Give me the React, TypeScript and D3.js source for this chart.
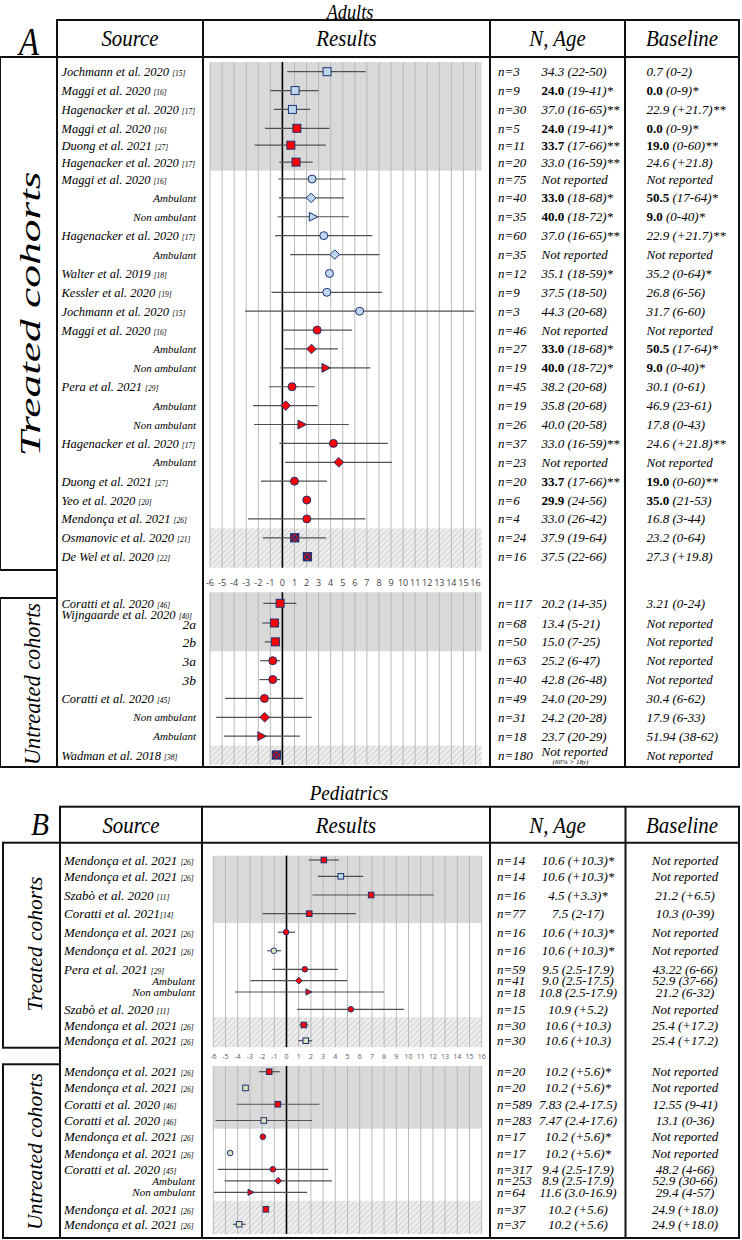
import React from "react";
import * as d3 from "d3";

type Row = {
  label: string; ref?: string; sub?: "s" | "big"; mean?: number; lo?: number; hi?: number;
  m?: string; c?: string; n?: string; age?: string; base?: string; note?: string;
};

const NR = "Not reported";
const ticks = [-6, -5, -4, -3, -2, -1, 0, 1, 2, 3, 4, 5, 6, 7, 8, 9, 10, 11, 12, 13, 14, 15, 16];

const adultsTreated: Row[] = [
  { label: "Jochmann et al. 2020", ref: "[15]", mean: 3.7, lo: 0.4, hi: 6.9, m: "sq", c: "b", n: "n=3", age: "34.3 (22-50)", base: "0.7 (0-2)" },
  { label: "Maggi et al. 2020", ref: "[16]", mean: 1.05, lo: -1.0, hi: 3.0, m: "sq", c: "b", n: "n=9", age: "^24.0^ (19-41)*", base: "^0.0^ (0-9)*" },
  { label: "Hagenacker et al. 2020", ref: "[17]", mean: 0.83, lo: -0.7, hi: 2.3, m: "sq", c: "b", n: "n=30", age: "37.0 (16-65)**", base: "22.9 (+21.7)**" },
  { label: "Maggi et al. 2020", ref: "[16]", mean: 1.2, lo: -1.45, hi: 3.9, m: "sq", c: "r", n: "n=5", age: "^24.0^ (19-41)*", base: "^0.0^ (0-9)*" },
  { label: "Duong et al. 2021", ref: "[27]", mean: 0.7, lo: -2.3, hi: 3.6, m: "sq", c: "r", n: "n=11", age: "^33.7^ (17-66)**", base: "^19.0^ (0-60)**" },
  { label: "Hagenacker et al. 2020", ref: "[17]", mean: 1.13, lo: -0.25, hi: 2.5, m: "sq", c: "r", n: "n=20", age: "33.0 (16-59)**", base: "24.6 (+21.8)" },
  { label: "Maggi et al. 2020", ref: "[16]", mean: 2.46, lo: -0.35, hi: 5.25, m: "ci", c: "b", n: "n=75", age: NR, base: NR },
  { label: "Ambulant", sub: "s", mean: 2.38, lo: -0.3, hi: 5.1, m: "di", c: "b", n: "n=40", age: "^33.0^ (18-68)*", base: "^50.5^ (17-64)*" },
  { label: "Non ambulant", sub: "s", mean: 2.52, lo: -0.4, hi: 5.5, m: "tr", c: "b", n: "n=35", age: "^40.0^ (18-72)*", base: "^9.0^ (0-40)*" },
  { label: "Hagenacker et al. 2020", ref: "[17]", mean: 3.43, lo: -0.6, hi: 7.45, m: "ci", c: "b", n: "n=60", age: "37.0 (16-65)**", base: "22.9 (+21.7)**" },
  { label: "Ambulant", sub: "s", mean: 4.34, lo: 0.65, hi: 8.05, m: "di", c: "b", n: "n=35", age: NR, base: NR },
  { label: "Walter et al. 2019", ref: "[18]", mean: 3.9, m: "ci", c: "b", n: "n=12", age: "35.1 (18-59)*", base: "35.2 (0-64)*" },
  { label: "Kessler et al. 2020", ref: "[19]", mean: 3.68, lo: -0.9, hi: 8.25, m: "ci", c: "b", n: "n=9", age: "37.5 (18-50)", base: "26.8 (6-56)" },
  { label: "Jochmann et al. 2020", ref: "[15]", mean: 6.4, lo: -3.1, hi: 15.9, m: "ci", c: "b", n: "n=3", age: "44.3 (20-68)", base: "31.7 (6-60)" },
  { label: "Maggi et al. 2020", ref: "[16]", mean: 2.88, lo: 0, hi: 5.78, m: "ci", c: "r", n: "n=46", age: NR, base: NR },
  { label: "Ambulant", sub: "s", mean: 2.41, lo: 0.17, hi: 4.6, m: "di", c: "r", n: "n=27", age: "^33.0^ (18-68)*", base: "^50.5^ (17-64)*" },
  { label: "Non ambulant", sub: "s", mean: 3.57, lo: -0.17, hi: 7.28, m: "tr", c: "r", n: "n=19", age: "^40.0^ (18-72)*", base: "^9.0^ (0-40)*" },
  { label: "Pera et al. 2021", ref: "[29]", mean: 0.8, lo: -1.1, hi: 2.68, m: "ci", c: "r", n: "n=45", age: "38.2 (20-68)", base: "30.1 (0-61)" },
  { label: "Ambulant", sub: "s", mean: 0.28, lo: -2.43, hi: 2.93, m: "di", c: "r", n: "n=19", age: "35.8 (20-68)", base: "46.9 (23-61)" },
  { label: "Non ambulant", sub: "s", mean: 1.58, lo: -2.35, hi: 5.5, m: "tr", c: "r", n: "n=26", age: "40.0 (20-58)", base: "17.8 (0-43)" },
  { label: "Hagenacker et al. 2020", ref: "[17]", mean: 4.23, lo: -0.25, hi: 8.74, m: "ci", c: "r", n: "n=37", age: "33.0 (16-59)**", base: "24.6 (+21.8)**" },
  { label: "Ambulant", sub: "s", mean: 4.67, lo: 0.22, hi: 9.07, m: "di", c: "r", n: "n=23", age: NR, base: NR },
  { label: "Duong et al. 2021", ref: "[27]", mean: 1.0, lo: -1.77, hi: 3.7, m: "ci", c: "r", n: "n=20", age: "^33.7^ (17-66)**", base: "^19.0^ (0-60)**" },
  { label: "Yeo et al. 2020", ref: "[20]", mean: 2.02, m: "ci", c: "r", n: "n=6", age: "^29.9^ (24-56)", base: "^35.0^ (21-53)" },
  { label: "Mendonça et al. 2021", ref: "[26]", mean: 2.02, lo: -2.85, hi: 6.86, m: "ci", c: "r", n: "n=4", age: "33.0 (26-42)", base: "16.8 (3-44)" },
  { label: "Osmanovic et al. 2020", ref: "[21]", mean: 1.02, lo: -1.63, hi: 3.62, m: "xs", c: "r", n: "n=24", age: "37.9 (19-64)", base: "23.2 (0-64)" },
  { label: "De Wel et al. 2020", ref: "[22]", mean: 2.07, m: "xs", c: "r", n: "n=16", age: "37.5 (22-66)", base: "27.3 (+19.8)" },
];

const adultsUntreated: Row[] = [
  { label: "Coratti et al. 2020", ref: "[46]", mean: -0.19, lo: -1.58, hi: 1.16, m: "sq", c: "r", n: "n=117", age: "20.2 (14-35)", base: "3.21 (0-24)" },
  { label: "Wijngaarde et al. 2020", ref: "[40]" },
  { label: "2a", sub: "big", mean: -0.66, lo: -1.66, hi: -0.25, m: "sq", c: "r", n: "n=68", age: "13.4 (5-21)", base: NR },
  { label: "2b", sub: "big", mean: -0.58, lo: -1.47, hi: -0.25, m: "sq", c: "r", n: "n=50", age: "15.0 (7-25)", base: NR },
  { label: "3a", sub: "big", mean: -0.8, lo: -1.85, hi: -0.19, m: "ci", c: "r", n: "n=63", age: "25.2 (6-47)", base: NR },
  { label: "3b", sub: "big", mean: -0.8, lo: -1.91, hi: -0.19, m: "ci", c: "r", n: "n=40", age: "42.8 (26-48)", base: NR },
  { label: "Coratti et al. 2020", ref: "[45]", mean: -1.49, lo: -4.76, hi: 1.72, m: "ci", c: "r", n: "n=49", age: "24.0 (20-29)", base: "30.4 (6-62)" },
  { label: "Non ambulant", sub: "s", mean: -1.47, lo: -5.48, hi: 2.43, m: "di", c: "r", n: "n=31", age: "24.2 (20-28)", base: "17.9 (6-33)" },
  { label: "Ambulant", sub: "s", mean: -1.74, lo: -4.84, hi: 1.44, m: "tr", c: "r", n: "n=18", age: "23.7 (20-29)", base: "51.94 (38-62)" },
  { label: "Wadman et al. 2018", ref: "[38]", mean: -0.5, m: "xs", c: "r", n: "n=180", age: NR, note: "(60% > 18y)", base: NR },
];

const pedsTreated: Row[] = [
  { label: "Mendonça et al. 2021", ref: "[26]", mean: 3.06, lo: 1.83, hi: 4.29, m: "sq", c: "r", n: "n=14", age: "10.6 (+10.3)*", base: NR },
  { label: "Mendonça et al. 2021", ref: "[26]", mean: 4.45, lo: 2.57, hi: 6.28, m: "sq", c: "b", n: "n=14", age: "10.6 (+10.3)*", base: NR },
  { label: "Szabò et al. 2020", ref: "[11]", mean: 6.94, lo: 2.13, hi: 12.08, m: "sq", c: "r", n: "n=16", age: "4.5 (+3.3)*", base: "21.2 (+6.5)" },
  { label: "Coratti et al. 2021", ref: "[14]", mean: 1.86, lo: -1.97, hi: 5.68, m: "sq", c: "r", n: "n=77", age: "7.5 (2-17)", base: "10.3 (0-39)" },
  { label: "Mendonça et al. 2021", ref: "[26]", mean: -0.03, lo: -0.71, hi: 0.71, m: "ci", c: "r", n: "n=16", age: "10.6 (+10.3)*", base: NR },
  { label: "Mendonça et al. 2021", ref: "[26]", mean: -1.04, lo: -1.58, hi: -0.44, m: "ci", c: "g", n: "n=16", age: "10.6 (+10.3)*", base: NR },
  { label: "Pera et al. 2021", ref: "[29]", mean: 1.5, lo: -1.17, hi: 4.2, m: "ci", c: "r", n: "n=59", age: "9.5 (2.5-17.9)", base: "43.22 (6-66)" },
  { label: "Ambulant", sub: "s", mean: 1.01, lo: -2.95, hi: 4.97, m: "di", c: "r", n: "n=41", age: "9.0 (2.5-17.5)", base: "52.9 (37-66)" },
  { label: "Non ambulant", sub: "s", mean: 1.8, lo: -4.23, hi: 7.98, m: "tr", c: "r", n: "n=18", age: "10.8 (2.5-17.9)", base: "21.2 (6-32)" },
  { label: "Szabò et al. 2020", ref: "[11]", mean: 5.27, lo: 0.87, hi: 9.62, m: "ci", c: "r", n: "n=15", age: "10.9 (+5.2)", base: NR },
  { label: "Mendonça et al. 2021", ref: "[26]", mean: 1.42, lo: 1.07, hi: 1.8, m: "sq", c: "r", n: "n=30", age: "10.6 (+10.3)", base: "25.4 (+17.2)" },
  { label: "Mendonça et al. 2021", ref: "[26]", mean: 1.58, lo: 0.96, hi: 2.1, m: "sq", c: "g", n: "n=30", age: "10.6 (+10.3)", base: "25.4 (+17.2)" },
];

const pedsUntreated: Row[] = [
  { label: "Mendonça et al. 2021", ref: "[26]", mean: -1.42, lo: -2.27, hi: -0.55, m: "sq", c: "r", n: "n=20", age: "10.2 (+5.6)*", base: NR },
  { label: "Mendonça et al. 2021", ref: "[26]", mean: -3.36, m: "sq", c: "g", n: "n=20", age: "10.2 (+5.6)*", base: NR },
  { label: "Coratti et al. 2020", ref: "[46]", mean: -0.71, lo: -4.1, hi: 2.7, m: "sq", c: "r", n: "n=589", age: "7.83 (2.4-17.5)", base: "12.55 (9-41)" },
  { label: "Coratti et al. 2020", ref: "[46]", mean: -1.86, lo: -5.82, hi: 2.1, m: "sq", c: "g", n: "n=283", age: "7.47 (2.4-17.6)", base: "13.1 (0-36)" },
  { label: "Mendonça et al. 2021", ref: "[26]", mean: -1.94, m: "ci", c: "r", n: "n=17", age: "10.2 (+5.6)*", base: NR },
  { label: "Mendonça et al. 2021", ref: "[26]", mean: -4.62, m: "ci", c: "g", n: "n=17", age: "10.2 (+5.6)*", base: NR },
  { label: "Coratti et al. 2020", ref: "[45]", mean: -1.12, lo: -5.63, hi: 3.42, m: "ci", c: "r", n: "n=317", age: "9.4 (2.5-17.9)", base: "48.2 (4-66)" },
  { label: "Ambulant", sub: "s", mean: -0.68, lo: -5.08, hi: 3.72, m: "di", c: "r", n: "n=253", age: "8.9 (2.5-17.9)", base: "52.9 (30-66)" },
  { label: "Non ambulant", sub: "s", mean: -2.95, lo: -5.96, hi: 1.69, m: "tr", c: "r", n: "n=64", age: "11.6 (3.0-16.9)", base: "29.4 (4-57)" },
  { label: "Mendonça et al. 2021", ref: "[26]", mean: -1.69, m: "sq", c: "r", n: "n=37", age: "10.2 (+5.6)", base: "24.9 (+18.0)" },
  { label: "Mendonça et al. 2021", ref: "[26]", mean: -3.88, lo: -4.4, hi: -3.36, m: "sq", c: "g", n: "n=37", age: "10.2 (+5.6)", base: "24.9 (+18.0)" },
];

const serif = "'Liberation Serif', 'Times New Roman', serif";
const sans = "'Open Sans', 'DejaVu Sans', sans-serif";
const FILL: Record<string, string> = { r: "#ff0000", b: "#bdd7ee", g: "#d8e4bc" };
const STROKE = "#1f3272";

function Marker({ m, c, x, y, s }: { m: string; c: string; x: number; y: number; s: number }) {
  const fill = FILL[c];
  const sw = 1;
  if (m === "sq") return <rect x={x - s / 2} y={y - s / 2} width={s} height={s} fill={fill} stroke={STROKE} strokeWidth={sw} />;
  if (m === "ci") return <circle cx={x} cy={y} r={s / 2} fill={fill} stroke={STROKE} strokeWidth={sw} />;
  if (m === "di") {
    const h = s * 0.6;
    return <polygon points={`${x},${y - h} ${x + h},${y} ${x},${y + h} ${x - h},${y}`} fill={fill} stroke={STROKE} strokeWidth={sw} />;
  }
  if (m === "tr") {
    const h = s * 0.55;
    return <polygon points={`${x - h * 0.8},${y - h} ${x + h * 1.1},${y} ${x - h * 0.8},${y + h}`} fill={fill} stroke={STROKE} strokeWidth={sw} />;
  }
  const h = s / 2;
  return (
    <g>
      <rect x={x - h} y={y - h} width={s} height={s} fill="#d0101a" stroke={STROKE} strokeWidth={1.3} />
      <line x1={x - h} y1={y - h} x2={x + h} y2={y + h} stroke={STROKE} strokeWidth={1.3} />
      <line x1={x - h} y1={y + h} x2={x + h} y2={y - h} stroke={STROKE} strokeWidth={1.3} />
    </g>
  );
}

function Rich({ text }: { text: string }) {
  const parts = text.split("^");
  return (
    <>
      {parts.map((p, i) =>
        i % 2 === 1 ? (
          <tspan key={i} fontWeight="bold" fontStyle="normal">{p}</tspan>
        ) : (
          <tspan key={i}>{p}</tspan>
        )
      )}
    </>
  );
}

type Layout = {
  srcX: number; subX: number; nX: number; ageX: number; ageAnchor: string; baseX: number; baseAnchor: string;
  bgMax: number; mk: number; srcSize: number; refSize: number;
};

function Section({ rows, x, y, bands, padTop, padBot, L }: {
  rows: Row[]; x: d3.ScaleLinear<number, number>; y: d3.ScaleLinear<number, number>;
  bands: [number, number, string][]; padTop: number; padBot: number; L: Layout;
}) {
  const last = rows.length - 1;
  const top = y(0) - padTop;
  const bottom = y(last) + padBot;
  const edgeBefore = (i: number) => (i === 0 ? top : (y(i - 1) + y(i)) / 2);
  const edgeAfter = (i: number) => (i === last ? bottom : (y(i) + y(i + 1)) / 2);
  const x0 = x(-6), x1 = x(L.bgMax);
  return (
    <g>
      {bands.map(([a, b, t], i) =>
        t === "w" ? null : (
          <rect key={i} x={x0} y={edgeBefore(a)} width={x1 - x0} height={edgeAfter(b) - edgeBefore(a)}
            fill={t === "g" ? "#d9d9d9" : "url(#hatch)"} />
        )
      )}
      {ticks.map((t) => (
        <line key={t} x1={x(t)} x2={x(t)} y1={top} y2={bottom} stroke="#b3b3b3" strokeWidth={0.9} />
      ))}
      <line x1={x(0)} x2={x(0)} y1={top} y2={bottom} stroke="#000" strokeWidth={1.6} />
      {rows.map((r, i) => {
        const yy = y(i);
        return (
          <g key={i}>
            {r.lo !== undefined && r.hi !== undefined && (
              <line x1={x(r.lo)} x2={x(r.hi)} y1={yy} y2={yy} stroke="#505050" strokeWidth={1.2} />
            )}
            {r.mean !== undefined && r.m && r.c && <Marker m={r.m} c={r.c} x={x(r.mean)} y={yy} s={8 * L.mk} />}
            {r.sub === "s" ? (
              <text x={L.subX} y={yy + 4} textAnchor="end" fontSize={11} fontStyle="italic" fontFamily={serif}>{r.label}</text>
            ) : r.sub === "big" ? (
              <text x={L.subX} y={yy + 5.5} textAnchor="end" fontSize={13.5} fontStyle="italic" fontFamily={serif}>{r.label}</text>
            ) : (
              <text x={L.srcX} y={yy + 4.5} fontSize={L.srcSize} fontStyle="italic" fontFamily={serif}>
                {r.label}
                {r.ref && <tspan fontSize={L.refSize} dx={r.ref === "[14]" ? 0 : 3}>{r.ref}</tspan>}
              </text>
            )}
            {r.n && <text x={L.nX} y={yy + 4.5} fontSize={13} fontStyle="italic" fontFamily={serif}>{r.n}</text>}
            {r.age && (
              <text x={L.ageX} y={r.note ? yy + 1 : yy + 4.5} textAnchor={L.ageAnchor as any} fontSize={13} fontStyle="italic" fontFamily={serif}>
                <Rich text={r.age} />
              </text>
            )}
            {r.note && (
              <text x={L.ageX + 29} y={yy + 9} textAnchor="middle" fontSize={7} fontStyle="italic" fontFamily={serif}>{r.note}</text>
            )}
            {r.base && (
              <text x={L.baseX} y={yy + 4.5} textAnchor={L.baseAnchor as any} fontSize={13} fontStyle="italic" fontFamily={serif}>
                <Rich text={r.base} />
              </text>
            )}
          </g>
        );
      })}
    </g>
  );
}

function Frame({ hx0, hy0, hy1, cols, x1, bottom, boxes }: {
  hx0: number; hy0: number; hy1: number; cols: number[]; x1: number; bottom: number; boxes: [number, number, number][];
}) {
  return (
    <g fill="none" stroke="#111" strokeWidth={2}>
      <rect x={hx0} y={hy0} width={x1 - hx0} height={bottom - hy0} />
      <line x1={hx0} x2={x1} y1={hy1} y2={hy1} />
      {cols.map((c) => (
        <line key={c} x1={c} x2={c} y1={hy0} y2={bottom} />
      ))}
      {boxes.map(([lx, a, b], i) => (
        <rect key={i} x={lx} y={a} width={hx0 - lx} height={b - a} />
      ))}
    </g>
  );
}

function HT({ x, y, size, sx = 0.87, children, anchor = "middle" }: any) {
  return (
    <text transform={`translate(${x},${y}) scale(${sx},1)`} textAnchor={anchor} fontSize={size} fontStyle="italic" fontFamily={serif}>
      {children}
    </text>
  );
}

function VT({ cx, cy, size, len, children }: any) {
  return (
    <text transform={`translate(${cx},${cy}) rotate(-90)`} textAnchor="middle" fontSize={size} fontStyle="italic"
      fontFamily={serif} textLength={len} lengthAdjust="spacingAndGlyphs">
      {children}
    </text>
  );
}

export default function App() {
  const xA = d3.scaleLinear().domain([-6, 16]).range([210, 475.5]);
  const xB = d3.scaleLinear().domain([-6, 16]).range([213.3, 481.7]);
  const yAT = d3.scaleLinear().domain([0, 3, 6, 26]).range([71.7, 128.3, 179, 556.7]);
  const yAU = d3.scaleLinear().domain([0, 1, 2, 9]).range([603.3, 614, 623, 755]);
  const yBT = d3.scaleLinear().domain([0, 1, 3, 6, 8, 9, 11]).range([860, 876.3, 913.7, 969.3, 992, 1009.3, 1040.7]);
  const yBU = d3.scaleLinear().domain([0, 6, 8, 9, 10]).range([1071.7, 1169.3, 1192.3, 1209.3, 1224.3]);

  const LA: Layout = { srcX: 61.5, subX: 196, nX: 498, ageX: 541.5, ageAnchor: "start", baseX: 646.5, baseAnchor: "start", bgMax: 16.5, mk: 1, srcSize: 12.5, refSize: 7.5 };
  const LB: Layout = { srcX: 64, subX: 195, nX: 497, ageX: 578, ageAnchor: "middle", baseX: 685, baseAnchor: "middle", bgMax: 16, mk: 0.7, srcSize: 13, refSize: 7.5 };

  return (
    <svg width={742} height={1240} style={{ position: "absolute", left: 0, top: 0, background: "#fff" }}>
      <defs>
        <pattern id="hatch" width="4" height="4" patternUnits="userSpaceOnUse" patternTransform="rotate(45)">
          <rect width="4" height="4" fill="#ededed" />
          <line x1="0" y1="0" x2="0" y2="4" stroke="#c4c4c4" strokeWidth="1.3" />
        </pattern>
      </defs>

      {/* Panel A */}
      <HT x={350} y={18.5} size={21}>Adults</HT>
      <HT x={29} y={55} size={40} sx={0.82}>A</HT>
      <HT x={130} y={46} size={24}>Source</HT>
      <HT x={346.5} y={46} size={24}>Results</HT>
      <HT x={557.5} y={46} size={24}>N, Age</HT>
      <HT x={682} y={46} size={24}>Baseline</HT>

      <Section rows={adultsTreated} x={xA} y={yAT} bands={[[0, 5, "g"], [6, 24, "w"], [25, 26, "h"]]} padTop={9.7} padBot={11} L={LA} />
      <Section rows={adultsUntreated} x={xA} y={yAU} bands={[[0, 3, "g"], [4, 8, "w"], [9, 9, "h"]]} padTop={11} padBot={10} L={LA} />
      {ticks.map((t) => (
        <text key={"ta" + t} x={xA(t)} y={586} textAnchor="middle" fontSize={9} fontFamily={sans} fill="#404040">{t}</text>
      ))}
      <Frame hx0={57} hy0={20} hy1={57} cols={[203, 490, 625]} x1={739} bottom={767} boxes={[[0, 57, 570], [0, 598, 767]]} />
      <VT cx={40} cy={314} size={30} len={285}>Treated cohorts</VT>
      <VT cx={40} cy={684} size={24} len={162}>Untreated cohorts</VT>

      {/* Panel B */}
      <HT x={349} y={800} size={22}>Pediatrics</HT>
      <HT x={40} y={835} size={32} sx={0.92}>B</HT>
      <HT x={131} y={833} size={24}>Source</HT>
      <HT x={346} y={833} size={24}>Results</HT>
      <HT x={557.5} y={833} size={24}>N, Age</HT>
      <HT x={682} y={833} size={24}>Baseline</HT>

      <Section rows={pedsTreated} x={xB} y={yBT} bands={[[0, 3, "g"], [4, 9, "w"], [10, 11, "h"]]} padTop={4.3} padBot={6.5} L={LB} />
      <Section rows={pedsUntreated} x={xB} y={yBU} bands={[[0, 3, "g"], [4, 8, "w"], [9, 10, "h"]]} padTop={5.7} padBot={9.7} L={LB} />
      {ticks.map((t) => (
        <text key={"tb" + t} x={xB(t)} y={1058.5} textAnchor="middle" fontSize={7} fontFamily={sans} fill="#595959">{t}</text>
      ))}
      <Frame hx0={60} hy0={806.7} hy1={842.7} cols={[202, 490, 625.5]} x1={739} bottom={1238} boxes={[[3, 842.7, 1047.7], [3, 1064.3, 1238]]} />
      <VT cx={42} cy={944} size={22} len={135}>Treated cohorts</VT>
      <VT cx={42} cy={1151.5} size={22} len={157}>Untreated cohorts</VT>
    </svg>
  );
}
